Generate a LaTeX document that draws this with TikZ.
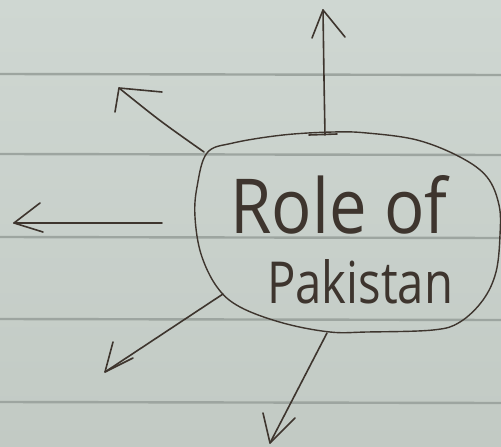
\documentclass[tikz,border=0pt]{standalone}
\usepackage{fontspec}
\setmainfont{Open Sans}
\usetikzlibrary{calc}
\definecolor{paper}{HTML}{C9D1CB}
\definecolor{papertop}{HTML}{CFD7D2}
\definecolor{paperbot}{HTML}{C2CAC4}
\definecolor{rule}{HTML}{9DA5A0}
\definecolor{ink}{HTML}{3E352E}
\tikzset{
  ruling/.style={draw=rule, line width=2.4pt},
  inkline/.style={draw=ink, line width=1.6pt, line cap=round, line join=round},
  hand/.style={text=ink, inner sep=0pt, anchor=base west}
}
\begin{document}
\begin{tikzpicture}[x=1pt,y=-1pt]
\useasboundingbox (0,0) rectangle (501,447);
\shade[top color=papertop, bottom color=paperbot] (0,0) rectangle (501,447);
% ruled lines
\foreach \yy in {74,154,237,319,402} {
  \draw[ruling] (0,\yy) -- (501,\yy+1);
}
% blob around the text
\draw[inkline, line width=1.4pt] plot[smooth cycle, tension=0.6] coordinates {
  (207,153) (233,143) (283,135) (333,132) (367,133) (417,140) (460,157)
  (487,177) (499,205) (500,235) (496,272) (483,300) (460,322) (433,330)
  (367,332) (330,332) (283,323) (240,307) (217,287) (201,254) (195,217)
  (197,187)};
% text
\node[hand] (t1) at (230,233) {\resizebox{217pt}{58pt}{Role of}};
\node[hand] (t2) at (267,303) {\resizebox{186pt}{44pt}{Pakistan}};
% connector coordinates
\coordinate (uS) at (325,135); \coordinate (uT) at (323,10);
\coordinate (uL) at (312,38);  \coordinate (uR) at (345,37);
\coordinate (uB1) at (309,135); \coordinate (uB2) at (337,134);
\coordinate (ulS) at (204,152); \coordinate (ulT) at (119,88);
\coordinate (ulA) at (162,92);  \coordinate (ulB) at (115,112);
\coordinate (lS) at (162,223);  \coordinate (lT) at (14,223);
\coordinate (lA) at (40,203);   \coordinate (lB) at (43,232);
\coordinate (llS) at (223,294); \coordinate (llT) at (105,372);
\coordinate (llA) at (113,342); \coordinate (llB) at (133,358);
\coordinate (dS) at (327,333);  \coordinate (dT) at (270,443);
\coordinate (dA) at (263,413);  \coordinate (dB) at (295,418);
% up arrow
\draw[inkline] (uB1) -- (uB2);
\draw[inkline] (uS) .. controls (324,80) .. (uT);
\draw[inkline] (uL) -- (uT) -- (uR);
% upper-left arrow
\draw[inkline] (ulS) .. controls (160,121) .. (ulT);
\draw[inkline] (ulA) -- (ulT) -- (ulB);
% left arrow
\draw[inkline] (lS) -- (lT);
\draw[inkline] (lA) -- (lT) -- (lB);
% lower-left arrow
\draw[inkline] (llS) -- (llT);
\draw[inkline] (llA) -- (llT) -- (llB);
% down arrow
\draw[inkline] (dS) -- (dT);
\draw[inkline] (dA) -- (dT) -- (dB);
\end{tikzpicture}
\end{document}
